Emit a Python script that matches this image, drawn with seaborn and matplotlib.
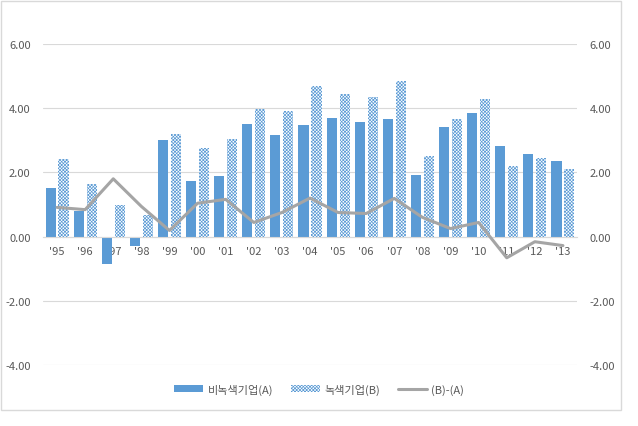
import numpy as np
import pandas as pd
import matplotlib
matplotlib.use("Agg")
import matplotlib.pyplot as plt
import seaborn as sns
from matplotlib.patches import Patch, Rectangle
from matplotlib.lines import Line2D

years = ["'95", "'96", "'97", "'98", "'99", "'00", "'01", "'02", "'03", "'04",
         "'05", "'06", "'07", "'08", "'09", "'10", "'11", "'12", "'13"]
non_green = [1.51, 0.80, -0.85, -0.28, 3.02, 1.73, 1.89, 3.52, 3.15, 3.49,
             3.68, 3.58, 3.65, 1.92, 3.40, 3.84, 2.83, 2.58, 2.36]
green = [2.42, 1.64, 0.97, 0.66, 3.21, 2.77, 3.05, 3.96, 3.90, 4.69,
         4.43, 4.34, 4.84, 2.52, 3.65, 4.28, 2.20, 2.45, 2.11]
diff = [0.91, 0.84, 1.80, 0.94, 0.19, 1.04, 1.16, 0.44, 0.75, 1.20,
        0.75, 0.72, 1.19, 0.60, 0.25, 0.44, -0.66, -0.16, -0.28]
yticks = [-4, -2, 0, 2, 4, 6]

lab_a = "비녹색기업(A)"
lab_b = "녹색기업(B)"
lab_d = "(B)-(A)"

sns.set_style("white")
plt.rcParams['font.family'] = ['Noto Sans CJK KR', 'DejaVu Sans']
plt.rcParams['hatch.linewidth'] = 0.5

blue = "#5B9BD5"
gray_line = "#A5A5A5"
txt = "#595959"
hatch = "xxxxxxxxxx"

df = pd.DataFrame({
    "year": years * 2,
    "group": [lab_a] * len(years) + [lab_b] * len(years),
    "value": non_green + green,
})

fig = plt.figure(figsize=(6.38, 4.27), dpi=100)
ax = fig.add_axes([43 / 638, 1 - 366 / 427, (577 - 43) / 638, (366 - 45) / 427])

sns.barplot(data=df, x="year", y="value", hue="group", hue_order=[lab_a, lab_b],
            palette=[blue, blue], width=0.92, gap=0.22, ax=ax, legend=False,
            saturation=1, zorder=2)
for p in ax.containers[1]:
    p.set_facecolor("white")
    p.set_edgecolor(blue)
    p.set_hatch(hatch)
    p.set_linewidth(0)
for p in ax.containers[0]:
    p.set_linewidth(0)

sns.lineplot(x=np.arange(len(years)), y=diff, color=gray_line, linewidth=2.2,
             ax=ax, zorder=3)

ax.set_ylim(-4, 6)
ax.set_xlim(-0.5, len(years) - 0.5)
ax.set_yticks(yticks)
ax.set_yticklabels([f"{v:.2f}" for v in yticks])
ax.grid(axis="y", color="#D9D9D9", linewidth=0.8, zorder=0)
ax.set_axisbelow(True)
for s in ["top", "right", "left"]:
    ax.spines[s].set_visible(False)
ax.spines["bottom"].set_position(("data", 0))
ax.spines["bottom"].set_color("#D9D9D9")
ax.spines["bottom"].set_linewidth(0.8)
ax.tick_params(axis="x", length=0, pad=7, labelsize=8, labelcolor=txt)
ax.tick_params(axis="y", length=0, pad=9, labelsize=8, labelcolor=txt)
ax.set_xlabel("")
ax.set_ylabel("")

ax2 = ax.twinx()
ax2.set_ylim(-4, 6)
ax2.set_yticks(yticks)
ax2.set_yticklabels([f"{v:.2f}" for v in yticks])
ax2.tick_params(axis="y", length=0, pad=9, labelsize=8, labelcolor=txt)
for s in ax2.spines.values():
    s.set_visible(False)

handles = [
    Patch(facecolor=blue, edgecolor=blue, linewidth=0),
    Patch(facecolor="white", edgecolor=blue, hatch=hatch, linewidth=0),
    Line2D([0], [0], color=gray_line, linewidth=2.2),
]
fig.legend(handles, [lab_a, lab_b, lab_d], loc="center", bbox_to_anchor=(0.5, 1 - 390 / 427),
           ncol=3, frameon=False, fontsize=8, labelcolor=txt, handlelength=2.6,
           handleheight=0.5, columnspacing=1.6, handletextpad=0.4)

fig.patches.append(Rectangle((1 / 638, 1 - 411 / 427), 620 / 638, 409 / 427,
                             transform=fig.transFigure, fill=False,
                             edgecolor="#D9D9D9", linewidth=1))

fig.savefig("out.png", dpi=100)
